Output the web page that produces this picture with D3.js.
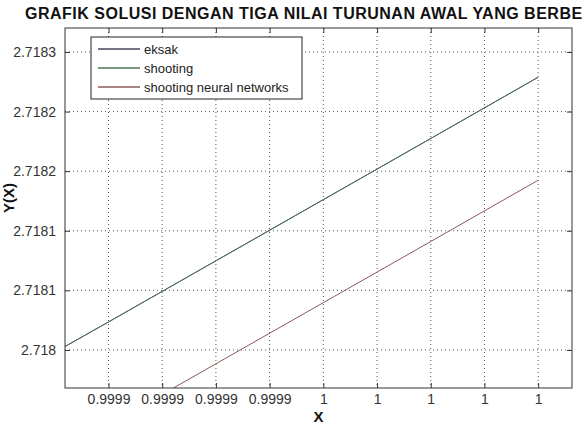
<!DOCTYPE html>
<html>
<head>
<meta charset="utf-8">
<script src="https://cdn.jsdelivr.net/npm/d3@7"></script>
<style>
  body { margin: 0; background: #fff; }
  svg { display: block; font-family: "Liberation Sans", Arial, sans-serif; }
</style>
</head>
<body>
<div id="chart"></div>
<script>
// x positions of the read points (last one sits on the last tick)
const xValues = [0.9999019, 0.99991, 0.99993, 0.99995, 0.99997, 0.99999];
// y values
const eksakValues = [2.7180029, 2.7180235, 2.7180748, 2.7181261, 2.7181774, 2.7182288];
const shootingValues = [2.7180029, 2.7180235, 2.7180748, 2.7181261, 2.7181774, 2.7182288];
const neuralValues = [2.7179165, 2.7179371, 2.7179884, 2.7180397, 2.7180910, 2.7181424];

const xTicks = [0.99991, 0.99992, 0.99993, 0.99994, 0.99995, 0.99996, 0.99997, 0.99998, 0.99999];
const yTicks = [2.718, 2.71805, 2.7181, 2.71815, 2.7182, 2.71825];
const yTickLabels = ["2.718", "2.7181", "2.7181", "2.7182", "2.7182", "2.7183"];

const seriesNames = ["eksak", "shooting", "shooting neural networks"];
const seriesColors = ["#46465e", "#4c7658", "#8c5a5a"];

const width = 583, height = 426;
const margin = { top: 28, right: 11, bottom: 38, left: 65 };
const innerW = width - margin.left - margin.right;
const innerH = height - margin.top - margin.bottom;

const svg = d3.select("#chart").append("svg")
    .attr("width", width)
    .attr("height", height);

const x = d3.scaleLinear()
    .domain([0.9999019, 0.9999963])
    .range([0, innerW]);
const y = d3.scaleLinear()
    .domain([2.7179681, 2.7182701])
    .range([innerH, 0]);

const g = svg.append("g")
    .attr("transform", `translate(${margin.left},${margin.top})`);

g.append("clipPath").attr("id", "clip")
  .append("rect").attr("width", innerW).attr("height", innerH);

// dotted grid
g.selectAll(".vgrid").data(xTicks).enter().append("line")
    .attr("x1", d => x(d)).attr("x2", d => x(d))
    .attr("y1", 0).attr("y2", innerH)
    .attr("stroke", "#555").attr("stroke-dasharray", "1,3");
g.selectAll(".hgrid").data(yTicks).enter().append("line")
    .attr("x1", 0).attr("x2", innerW)
    .attr("y1", d => y(d)).attr("y2", d => y(d))
    .attr("stroke", "#555").attr("stroke-dasharray", "1,3");

// lines
const allSeries = [eksakValues, shootingValues, neuralValues];
const line = d3.line().x((d, i) => x(xValues[i])).y(d => y(d));
const lines = g.append("g").attr("clip-path", "url(#clip)");
allSeries.forEach((vals, i) => {
    lines.append("path")
        .datum(vals)
        .attr("d", line)
        .attr("fill", "none")
        .attr("stroke", seriesColors[i])
        .attr("stroke-width", 1);
});

// axes, ticks inside, box on all sides
const xAxis = d3.axisBottom(x).tickValues(xTicks).tickFormat(d3.format(".4~g"))
    .tickSize(-5).tickPadding(6);
const yAxis = d3.axisLeft(y).tickValues(yTicks).tickFormat((d, i) => yTickLabels[i])
    .tickSize(-5).tickPadding(9);

const xg = g.append("g").attr("transform", `translate(0,${innerH})`).call(xAxis);
const yg = g.append("g").call(yAxis);
g.append("g").call(d3.axisTop(x).tickValues(xTicks).tickSize(-5).tickFormat(""));
g.append("g").attr("transform", `translate(${innerW},0)`)
    .call(d3.axisRight(y).tickValues(yTicks).tickSize(-5).tickFormat(""));

g.selectAll(".domain").remove();
g.selectAll(".tick line").attr("stroke", "#333");
[xg, yg].forEach(a => a.selectAll("text")
    .attr("font-size", 14).attr("fill", "#333")
    .attr("font-family", "Liberation Sans, Arial, sans-serif"));

g.append("rect")
    .attr("width", innerW).attr("height", innerH)
    .attr("fill", "none").attr("stroke", "#333").attr("stroke-width", 1);

// legend
const legend = g.append("g").attr("transform", "translate(26,9)");
legend.append("rect")
    .attr("width", 211).attr("height", 62)
    .attr("fill", "#fff").attr("stroke", "#222");
seriesNames.forEach((name, i) => {
    const ly = 12 + i * 19;
    legend.append("line")
        .attr("x1", 7).attr("x2", 49)
        .attr("y1", ly).attr("y2", ly)
        .attr("stroke", seriesColors[i]).attr("stroke-width", 1.3);
    legend.append("text")
        .attr("x", 53).attr("y", ly + 4.5)
        .attr("font-size", 13).attr("fill", "#222")
        .text(name);
});

// title and labels
svg.append("text")
    .attr("x", 25).attr("y", 19)
    .attr("font-size", 16).attr("letter-spacing", 0.5)
    .attr("font-weight", "bold").attr("fill", "#111")
    .text("GRAFIK SOLUSI DENGAN TIGA NILAI TURUNAN AWAL YANG BERBEDA");

svg.append("text")
    .attr("x", margin.left + innerW / 2).attr("y", 422)
    .attr("text-anchor", "middle")
    .attr("font-size", 15).attr("font-weight", "bold").attr("fill", "#111")
    .text("X");

svg.append("text")
    .attr("transform", "translate(14,198) rotate(-90)")
    .attr("text-anchor", "middle")
    .attr("font-size", 15).attr("font-weight", "bold").attr("fill", "#111")
    .text("Y(X)");
</script>
</body>
</html>
